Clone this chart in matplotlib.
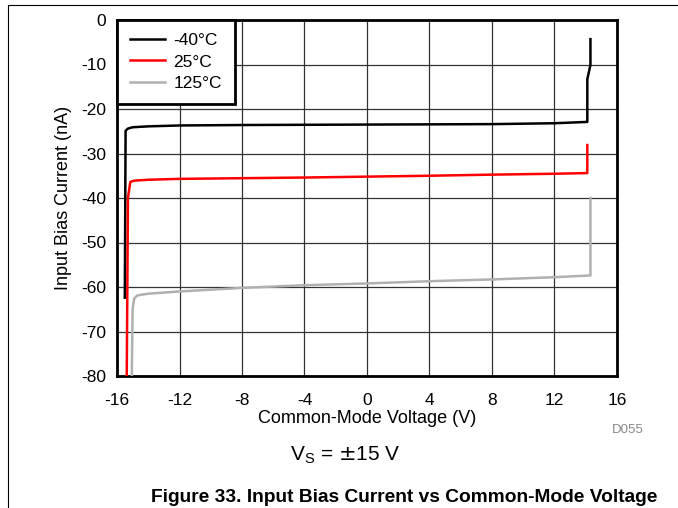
"""
Input bias current vs common-mode voltage, three temperatures (Vs = +/-15 V).
"""

import matplotlib
matplotlib.use('Agg')
import matplotlib.pyplot as plt
from matplotlib.lines import Line2D

plt.rcParams['font.family'] = ['Liberation Sans', 'DejaVu Sans']
plt.rcParams['axes.unicode_minus'] = False

# Common-mode voltage (V) and input bias current (nA)
v_m40 = [-15.5, -15.45, -15.3, -15.0, -14.0, -12.0, -8.0, -4.0, 0.0, 4.0, 8.0,
         12.0, 14.1, 14.1, 14.3, 14.3]
ib_m40 = [-62.4, -24.9, -24.4, -24.1, -23.9, -23.7, -23.6, -23.55, -23.5,
          -23.45, -23.4, -23.2, -22.9, -13.3, -10.1, -4.3]

v_25 = [-15.38, -15.3, -15.15, -14.9, -14.0, -12.0, -8.0, -4.0, 0.0, 4.0, 8.0,
        12.0, 14.1, 14.1]
ib_25 = [-82.0, -40.0, -36.4, -36.1, -35.9, -35.7, -35.55, -35.4, -35.2, -35.0,
         -34.75, -34.55, -34.4, -28.1]

v_125 = [-15.06, -15.0, -14.9, -14.7, -14.0, -12.0, -8.0, -4.0, 0.0, 4.0, 8.0,
         12.0, 14.3, 14.3]
ib_125 = [-82.0, -65.0, -62.6, -61.9, -61.5, -61.0, -60.2, -59.6, -59.2, -58.7,
          -58.3, -57.8, -57.4, -40.0]

series = [
    (v_m40, ib_m40, '-40\u00b0C', 'black'),
    (v_25, ib_25, '25\u00b0C', '#ff0000'),
    (v_125, ib_125, '125\u00b0C', '#b0b0b0'),
]

x_ticks = [-16, -12, -8, -4, 0, 4, 8, 12, 16]
y_ticks = [0, -10, -20, -30, -40, -50, -60, -70, -80]

fig = plt.figure(figsize=(6.78, 5.08), dpi=100)
ax = fig.add_axes([117 / 678, 1 - 376 / 508, 500 / 678, 356 / 508])

for v, ib, label, color in series:
    ax.plot(v, ib, color=color, linewidth=1.8, label=label, zorder=3)

ax.set_xlim(-16, 16)
ax.set_ylim(-80, 0)
ax.set_xticks(x_ticks)
ax.set_yticks(y_ticks)
ax.tick_params(length=0, labelsize=12.5)
ax.tick_params(axis='x', pad=12)
ax.tick_params(axis='y', pad=8)
ax.grid(True, color='#333333', linewidth=0.9)
ax.set_axisbelow(True)
for s in ax.spines.values():
    s.set_linewidth(2.0)

ax.set_xlabel('Common-Mode Voltage (V)', fontsize=13, labelpad=2)
ax.set_ylabel('Input Bias Current (nA)', fontsize=13, labelpad=6)

leg = ax.legend(loc='upper left', borderaxespad=0, fancybox=False,
                fontsize=12.5, handlelength=2.0, handletextpad=0.5,
                labelspacing=0.36, borderpad=0.75, framealpha=1)
leg.get_frame().set_edgecolor('black')
leg.get_frame().set_linewidth(2.0)

# annotations below the plot
fig.text(628 / 678, 1 - 430 / 508, 'D055', fontsize=9.5, color='#888888',
         ha='center', va='center')
fig.text(345 / 678, 1 - 455 / 508, r'V$_\mathregular{S}$ = $\pm$15 V',
         fontsize=15, ha='center', va='center')
fig.text(404 / 678, 1 - 497 / 508,
         'Figure 33. Input Bias Current vs Common-Mode Voltage',
         fontsize=13.8, fontweight='bold', ha='center', va='center')

# page frame lines
fig.add_artist(Line2D([8 / 678, 1], [1 - 5 / 508, 1 - 5 / 508],
                      color='black', linewidth=0.8))
fig.add_artist(Line2D([8 / 678, 8 / 678], [0, 1 - 5 / 508],
                      color='black', linewidth=0.8))

fig.savefig('out.png', dpi=100)
